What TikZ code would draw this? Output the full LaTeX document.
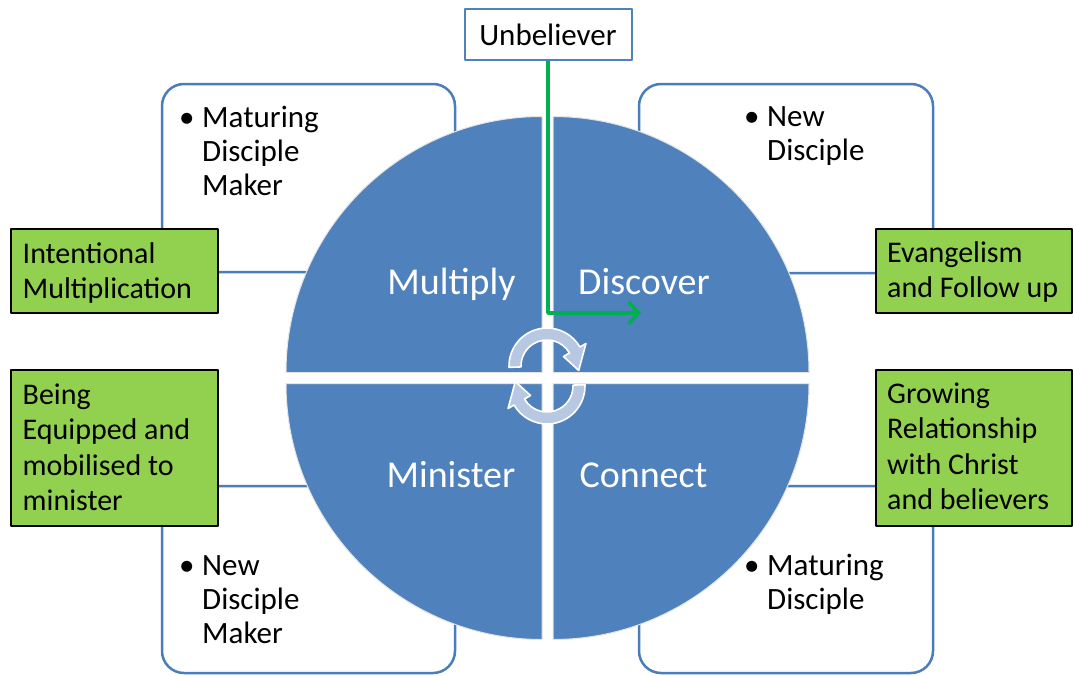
\documentclass[tikz,border=0pt]{standalone}
\usepackage{fontspec}
\setmainfont{Carlito}
\usetikzlibrary{arrows.meta}
\definecolor{qblue}{HTML}{4F81BD}
\definecolor{bborder}{HTML}{4A7EBB}
\definecolor{gfill}{HTML}{92D050}
\definecolor{garrow}{HTML}{00B050}
\definecolor{rotfill}{HTML}{B9C8E2}
\definecolor{qedge}{HTML}{E4E4E4}
\newcommand\bodyfs{\fontsize{31}{34.3}\selectfont}
\newcommand\greenfs{\fontsize{30}{35.5}\selectfont}
\newcommand\quadfs{\fontsize{38}{44}\selectfont}
\newcommand\bul{\makebox[23pt][l]{•}}
\begin{document}
\begin{tikzpicture}[x=1pt,y=1pt,line join=round,
  roundbox/.style={draw=bborder,line width=2.5pt,fill=white,rounded corners=22pt,inner sep=0pt},
  greenbox/.style={draw=black,line width=1.3pt,fill=gfill,inner sep=0pt},
  quadrant/.style={fill=qblue,draw=qedge,line width=1pt},
  quadlabel/.style={text=white,font=\quadfs,anchor=base,inner sep=0pt},
  bodytext/.style={font=\bodyfs,anchor=base west,inner sep=0pt,text=black},
  greentext/.style={font=\greenfs,anchor=base west,inner sep=0pt,text=black},
  rotarrow/.style={fill=rotfill,draw=white,line width=1.6pt},
  flow/.style={draw=garrow,line width=3.6pt,-{Straight Barb[length=10pt,width=22pt]}}]
\useasboundingbox (0,0) rectangle (1074,-675);

% rounded background boxes
\node[roundbox,minimum width=293pt,minimum height=188pt] (tl) at (308.5,-178) {};
\node[roundbox,minimum width=294pt,minimum height=189pt] (tr) at (786,-178.5) {};
\node[roundbox,minimum width=293pt,minimum height=187pt] (bl) at (308.5,-579.5) {};
\node[roundbox,minimum width=294pt,minimum height=187pt] (br) at (786,-579.5) {};

% circle quadrants
\path[quadrant] (542,-372.5) -- (286,-372.5) arc[start angle=180,end angle=90,radius=256] -- cycle;
\path[quadrant] (553,-372.5) -- (553,-116.5) arc[start angle=90,end angle=0,radius=256] -- cycle;
\path[quadrant] (542,-383.5) -- (286,-383.5) arc[start angle=180,end angle=270,radius=256] -- cycle;
\path[quadrant] (553,-383.5) -- (809,-383.5) arc[start angle=0,end angle=-90,radius=256] -- cycle;

\node[quadlabel] (multiply) at (451.5,-294) {Multiply};
\node[quadlabel] (discover) at (644,-294) {Discover};
\node[quadlabel] (minister) at (451,-487) {Minister};
\node[quadlabel] (connect) at (643.5,-487) {Connect};

% rotation arrows
\begin{scope}[shift={(547,-366)}]
\path[rotarrow] (182:38) arc[start angle=182,end angle=30,radius=38] -- (30:45) -- (-8:32) -- (30:19) -- (30:26) arc[start angle=30,end angle=182,radius=26] -- cycle;
\end{scope}
\begin{scope}[shift={(547,-386)},rotate=180]
\path[rotarrow] (182:38) arc[start angle=182,end angle=30,radius=38] -- (30:45) -- (-8:32) -- (30:19) -- (30:26) arc[start angle=30,end angle=182,radius=26] -- cycle;
\end{scope}

% green boxes
\node[greenbox,minimum width=207pt,minimum height=84pt] (gim) at (114.5,-271) {};
\node[greenbox,minimum width=207pt,minimum height=156pt] (gbe) at (114.5,-448) {};
\node[greenbox,minimum width=196pt,minimum height=84pt] (gef) at (974,-271) {};
\node[greenbox,minimum width=196pt,minimum height=156pt] (ggr) at (974,-448) {};

\node[greentext] (tim) at (22.5,-263) {\begin{tabular}[t]{@{}l@{}}Intentional\\Multiplication\end{tabular}};
\node[greentext] (tbe) at (22.5,-404) {\begin{tabular}[t]{@{}l@{}}Being\\Equipped and\\mobilised to\\minister\end{tabular}};
\node[greentext] (tef) at (887,-262) {\begin{tabular}[t]{@{}l@{}}Evangelism\\and Follow up\end{tabular}};
\node[greentext] (tgr) at (887,-403) {\begin{tabular}[t]{@{}l@{}}Growing\\Relationship\\with Christ\\and believers\end{tabular}};

% bullet texts
\node[bodytext] (ttl) at (179,-127) {\begin{tabular}[t]{@{}l@{}}\bul Maturing\\\hspace*{23pt}Disciple\\\hspace*{23pt}Maker\end{tabular}};
\node[bodytext] (ttr) at (744,-126) {\begin{tabular}[t]{@{}l@{}}\bul New\\\hspace*{23pt}Disciple\end{tabular}};
\node[bodytext] (tbl) at (179,-575) {\begin{tabular}[t]{@{}l@{}}\bul New\\\hspace*{23pt}Disciple\\\hspace*{23pt}Maker\end{tabular}};
\node[bodytext] (tbr) at (744,-575) {\begin{tabular}[t]{@{}l@{}}\bul Maturing\\\hspace*{23pt}Disciple\end{tabular}};

% unbeliever and flow arrow
\node[draw=qblue,line width=2pt,fill=white,minimum width=167pt,minimum height=51pt,inner sep=0pt,font=\bodyfs] (unb) at (548,-34.5) {Unbeliever};
\coordinate (bend) at (548,-313);
\coordinate (aend) at (641,-313);
\draw[flow] (unb.south) -- (bend) -- (aend);
\end{tikzpicture}
\end{document}
